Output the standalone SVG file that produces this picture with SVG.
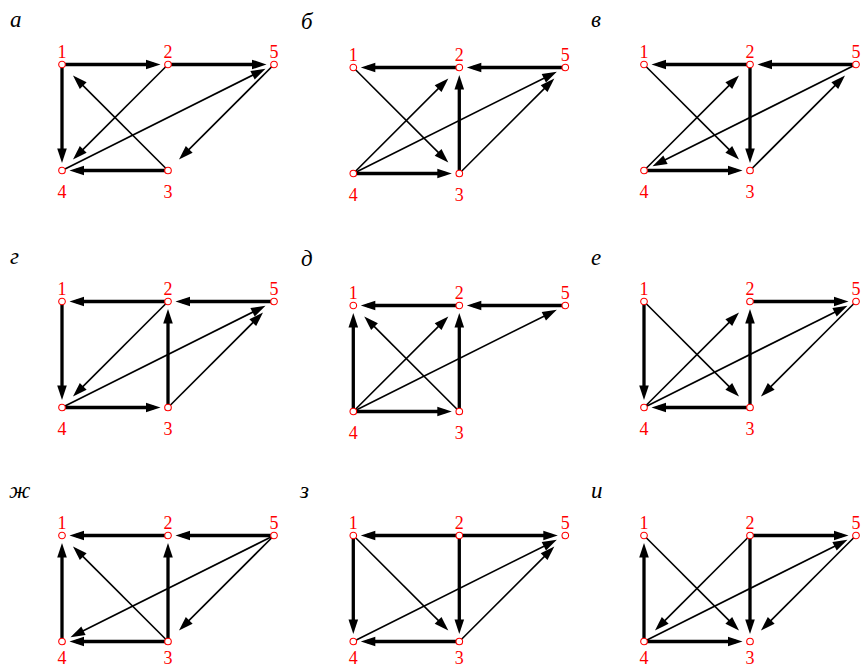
<svg xmlns="http://www.w3.org/2000/svg" width="862" height="668" viewBox="0 0 862 668">
<defs>
<marker id="ah" markerUnits="userSpaceOnUse" viewBox="0 -4.8 14.5 9.6" markerWidth="14.5" markerHeight="9.6" refX="8" refY="0" orient="auto" overflow="visible">
<path d="M0,-4.8 L14.5,0 L0,4.8 z" fill="#000"/>
</marker>
</defs>
<style>
.thick{stroke:#000;stroke-width:3.3;fill:none;marker-end:url(#ah)}
.thin{stroke:#000;stroke-width:1.6;fill:none;marker-end:url(#ah)}
.node circle{fill:#fff;stroke:#ff0000;stroke-width:1.1}
.node text{fill:#ff0000;font-family:'Liberation Serif','Times New Roman',serif;font-size:18px;text-anchor:middle}
.title{fill:#000;font-family:'Liberation Serif','Times New Roman',serif;font-style:italic;font-size:23px}
</style>
<rect width="862" height="668" fill="#fff"/>

<text class="title" x="10" y="27">а</text>
<text class="title" x="301" y="29">б</text>
<text class="title" x="591" y="27">в</text>
<text class="title" x="10" y="264">г</text>
<text class="title" x="301" y="266">д</text>
<text class="title" x="591" y="265">е</text>
<text class="title" x="9" y="498">ж</text>
<text class="title" x="300" y="498">з</text>
<text class="title" x="591" y="498">и</text>

<!-- а -->
<g id="panel-a" transform="translate(62,64.5)">
<g id="a-edges">
<line class="thick" x1="0" y1="0" x2="92" y2="0"/>
<line class="thick" x1="106" y1="0" x2="198" y2="0"/>
<line class="thick" x1="0" y1="0" x2="0" y2="92"/>
<line class="thick" x1="106" y1="106" x2="14" y2="106"/>
<line class="thin" x1="106" y1="0" x2="15.56" y2="90.44"/>
<line class="thin" x1="0" y1="106" x2="197.69" y2="7.16"/>
<line class="thin" x1="106" y1="106" x2="15.56" y2="15.56"/>
<line class="thin" x1="212" y1="0" x2="121.56" y2="90.44"/>
</g>
<g id="a-n1" class="node"><circle cx="0" cy="0" r="3.3"/><text x="0" y="-7">1</text></g>
<g id="a-n2" class="node"><circle cx="106" cy="0" r="3.3"/><text x="106" y="-7">2</text></g>
<g id="a-n5" class="node"><circle cx="212" cy="0" r="3.3"/><text x="212" y="-7">5</text></g>
<g id="a-n4" class="node"><circle cx="0" cy="106" r="3.3"/><text x="0" y="133.5">4</text></g>
<g id="a-n3" class="node"><circle cx="106" cy="106" r="3.3"/><text x="106" y="133.5">3</text></g>
</g>

<!-- б -->
<g id="panel-b" transform="translate(353.3,67.5)">
<g id="b-edges">
<line class="thick" x1="106" y1="0" x2="14" y2="0"/>
<line class="thick" x1="212" y1="0" x2="120" y2="0"/>
<line class="thick" x1="106" y1="106" x2="106" y2="14"/>
<line class="thick" x1="0" y1="106" x2="92" y2="106"/>
<line class="thin" x1="0" y1="0" x2="90.44" y2="90.44"/>
<line class="thin" x1="0" y1="106" x2="90.44" y2="15.56"/>
<line class="thin" x1="0" y1="106" x2="197.69" y2="7.16"/>
<line class="thin" x1="106" y1="106" x2="196.44" y2="15.56"/>
</g>
<g id="b-n1" class="node"><circle cx="0" cy="0" r="3.3"/><text x="0" y="-7">1</text></g>
<g id="b-n2" class="node"><circle cx="106" cy="0" r="3.3"/><text x="106" y="-7">2</text></g>
<g id="b-n5" class="node"><circle cx="212" cy="0" r="3.3"/><text x="212" y="-7">5</text></g>
<g id="b-n4" class="node"><circle cx="0" cy="106" r="3.3"/><text x="0" y="133.5">4</text></g>
<g id="b-n3" class="node"><circle cx="106" cy="106" r="3.3"/><text x="106" y="133.5">3</text></g>
</g>

<!-- в -->
<g id="panel-v" transform="translate(644,64.5)">
<g id="v-edges">
<line class="thick" x1="106" y1="0" x2="14" y2="0"/>
<line class="thick" x1="212" y1="0" x2="120" y2="0"/>
<line class="thick" x1="106" y1="0" x2="106" y2="92"/>
<line class="thick" x1="0" y1="106" x2="92" y2="106"/>
<line class="thin" x1="0" y1="0" x2="90.44" y2="90.44"/>
<line class="thin" x1="0" y1="106" x2="90.44" y2="15.56"/>
<line class="thin" x1="212" y1="0" x2="14.31" y2="98.84"/>
<line class="thin" x1="106" y1="106" x2="196.44" y2="15.56"/>
</g>
<g id="v-n1" class="node"><circle cx="0" cy="0" r="3.3"/><text x="0" y="-7">1</text></g>
<g id="v-n2" class="node"><circle cx="106" cy="0" r="3.3"/><text x="106" y="-7">2</text></g>
<g id="v-n5" class="node"><circle cx="212" cy="0" r="3.3"/><text x="212" y="-7">5</text></g>
<g id="v-n4" class="node"><circle cx="0" cy="106" r="3.3"/><text x="0" y="133.5">4</text></g>
<g id="v-n3" class="node"><circle cx="106" cy="106" r="3.3"/><text x="106" y="133.5">3</text></g>
</g>

<!-- г -->
<g id="panel-g" transform="translate(62,301.5)">
<g id="g-edges">
<line class="thick" x1="106" y1="0" x2="14" y2="0"/>
<line class="thick" x1="212" y1="0" x2="120" y2="0"/>
<line class="thick" x1="0" y1="0" x2="0" y2="92"/>
<line class="thick" x1="0" y1="106" x2="92" y2="106"/>
<line class="thick" x1="106" y1="106" x2="106" y2="14"/>
<line class="thin" x1="106" y1="0" x2="15.56" y2="90.44"/>
<line class="thin" x1="0" y1="106" x2="197.69" y2="7.16"/>
<line class="thin" x1="106" y1="106" x2="196.44" y2="15.56"/>
</g>
<g id="g-n1" class="node"><circle cx="0" cy="0" r="3.3"/><text x="0" y="-7">1</text></g>
<g id="g-n2" class="node"><circle cx="106" cy="0" r="3.3"/><text x="106" y="-7">2</text></g>
<g id="g-n5" class="node"><circle cx="212" cy="0" r="3.3"/><text x="212" y="-7">5</text></g>
<g id="g-n4" class="node"><circle cx="0" cy="106" r="3.3"/><text x="0" y="133.5">4</text></g>
<g id="g-n3" class="node"><circle cx="106" cy="106" r="3.3"/><text x="106" y="133.5">3</text></g>
</g>

<!-- д -->
<g id="panel-d" transform="translate(353.3,305.5)">
<g id="d-edges">
<line class="thick" x1="106" y1="0" x2="14" y2="0"/>
<line class="thick" x1="212" y1="0" x2="120" y2="0"/>
<line class="thick" x1="0" y1="106" x2="0" y2="14"/>
<line class="thick" x1="106" y1="106" x2="106" y2="14"/>
<line class="thick" x1="0" y1="106" x2="92" y2="106"/>
<line class="thin" x1="0" y1="106" x2="90.44" y2="15.56"/>
<line class="thin" x1="106" y1="106" x2="15.56" y2="15.56"/>
<line class="thin" x1="0" y1="106" x2="197.69" y2="7.16"/>
</g>
<g id="d-n1" class="node"><circle cx="0" cy="0" r="3.3"/><text x="0" y="-7">1</text></g>
<g id="d-n2" class="node"><circle cx="106" cy="0" r="3.3"/><text x="106" y="-7">2</text></g>
<g id="d-n5" class="node"><circle cx="212" cy="0" r="3.3"/><text x="212" y="-7">5</text></g>
<g id="d-n4" class="node"><circle cx="0" cy="106" r="3.3"/><text x="0" y="133.5">4</text></g>
<g id="d-n3" class="node"><circle cx="106" cy="106" r="3.3"/><text x="106" y="133.5">3</text></g>
</g>

<!-- е -->
<g id="panel-e" transform="translate(644,301.5)">
<g id="e-edges">
<line class="thick" x1="106" y1="0" x2="198" y2="0"/>
<line class="thick" x1="0" y1="0" x2="0" y2="92"/>
<line class="thick" x1="106" y1="106" x2="106" y2="14"/>
<line class="thick" x1="106" y1="106" x2="14" y2="106"/>
<line class="thin" x1="0" y1="0" x2="90.44" y2="90.44"/>
<line class="thin" x1="0" y1="106" x2="90.44" y2="15.56"/>
<line class="thin" x1="0" y1="106" x2="197.69" y2="7.16"/>
<line class="thin" x1="212" y1="0" x2="121.56" y2="90.44"/>
</g>
<g id="e-n1" class="node"><circle cx="0" cy="0" r="3.3"/><text x="0" y="-7">1</text></g>
<g id="e-n2" class="node"><circle cx="106" cy="0" r="3.3"/><text x="106" y="-7">2</text></g>
<g id="e-n5" class="node"><circle cx="212" cy="0" r="3.3"/><text x="212" y="-7">5</text></g>
<g id="e-n4" class="node"><circle cx="0" cy="106" r="3.3"/><text x="0" y="133.5">4</text></g>
<g id="e-n3" class="node"><circle cx="106" cy="106" r="3.3"/><text x="106" y="133.5">3</text></g>
</g>

<!-- ж -->
<g id="panel-zh" transform="translate(62,535.5)">
<g id="zh-edges">
<line class="thick" x1="106" y1="0" x2="14" y2="0"/>
<line class="thick" x1="212" y1="0" x2="120" y2="0"/>
<line class="thick" x1="0" y1="106" x2="0" y2="14"/>
<line class="thick" x1="106" y1="106" x2="106" y2="14"/>
<line class="thick" x1="106" y1="106" x2="14" y2="106"/>
<line class="thin" x1="106" y1="106" x2="15.56" y2="15.56"/>
<line class="thin" x1="212" y1="0" x2="14.31" y2="98.84"/>
<line class="thin" x1="212" y1="0" x2="121.56" y2="90.44"/>
</g>
<g id="zh-n1" class="node"><circle cx="0" cy="0" r="3.3"/><text x="0" y="-7">1</text></g>
<g id="zh-n2" class="node"><circle cx="106" cy="0" r="3.3"/><text x="106" y="-7">2</text></g>
<g id="zh-n5" class="node"><circle cx="212" cy="0" r="3.3"/><text x="212" y="-7">5</text></g>
<g id="zh-n4" class="node"><circle cx="0" cy="106" r="3.3"/><text x="0" y="128">4</text></g>
<g id="zh-n3" class="node"><circle cx="106" cy="106" r="3.3"/><text x="106" y="128">3</text></g>
</g>

<!-- з -->
<g id="panel-z" transform="translate(353.3,535.5)">
<g id="z-edges">
<line class="thick" x1="106" y1="0" x2="14" y2="0"/>
<line class="thick" x1="106" y1="0" x2="198" y2="0"/>
<line class="thick" x1="0" y1="0" x2="0" y2="92"/>
<line class="thick" x1="106" y1="0" x2="106" y2="92"/>
<line class="thick" x1="106" y1="106" x2="14" y2="106"/>
<line class="thin" x1="0" y1="0" x2="90.44" y2="90.44"/>
<line class="thin" x1="0" y1="106" x2="197.69" y2="7.16"/>
<line class="thin" x1="106" y1="106" x2="196.44" y2="15.56"/>
</g>
<g id="z-n1" class="node"><circle cx="0" cy="0" r="3.3"/><text x="0" y="-7">1</text></g>
<g id="z-n2" class="node"><circle cx="106" cy="0" r="3.3"/><text x="106" y="-7">2</text></g>
<g id="z-n5" class="node"><circle cx="212" cy="0" r="3.3"/><text x="212" y="-7">5</text></g>
<g id="z-n4" class="node"><circle cx="0" cy="106" r="3.3"/><text x="0" y="128">4</text></g>
<g id="z-n3" class="node"><circle cx="106" cy="106" r="3.3"/><text x="106" y="128">3</text></g>
</g>

<!-- и -->
<g id="panel-i" transform="translate(644,535.5)">
<g id="i-edges">
<line class="thick" x1="106" y1="0" x2="198" y2="0"/>
<line class="thick" x1="0" y1="106" x2="0" y2="14"/>
<line class="thick" x1="106" y1="0" x2="106" y2="92"/>
<line class="thick" x1="0" y1="106" x2="92" y2="106"/>
<line class="thin" x1="0" y1="0" x2="90.44" y2="90.44"/>
<line class="thin" x1="106" y1="0" x2="15.56" y2="90.44"/>
<line class="thin" x1="0" y1="106" x2="197.69" y2="7.16"/>
<line class="thin" x1="212" y1="0" x2="121.56" y2="90.44"/>
</g>
<g id="i-n1" class="node"><circle cx="0" cy="0" r="3.3"/><text x="0" y="-7">1</text></g>
<g id="i-n2" class="node"><circle cx="106" cy="0" r="3.3"/><text x="106" y="-7">2</text></g>
<g id="i-n5" class="node"><circle cx="212" cy="0" r="3.3"/><text x="212" y="-7">5</text></g>
<g id="i-n4" class="node"><circle cx="0" cy="106" r="3.3"/><text x="0" y="128">4</text></g>
<g id="i-n3" class="node"><circle cx="106" cy="106" r="3.3"/><text x="106" y="128">3</text></g>
</g>
</svg>
